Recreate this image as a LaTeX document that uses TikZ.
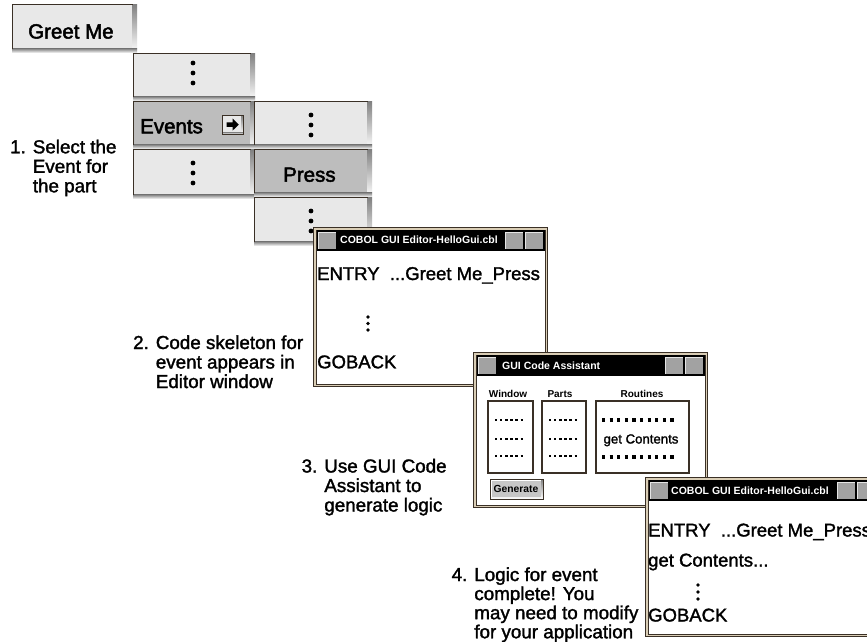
\documentclass[tikz,border=0pt]{standalone}
\usepackage{fontspec}
\setmainfont{Liberation Sans}
\newfontfamily\medfont[FakeBold=1.6]{Liberation Sans}
\newfontfamily\menufont[FakeBold=2.4]{Liberation Sans}
\definecolor{cellL}{HTML}{E8E8E8}
\definecolor{cellD}{HTML}{BDBDBD}
\definecolor{shade}{HTML}{8E8E8E}
\definecolor{edge}{HTML}{3A3026}
\definecolor{tanb}{HTML}{D9CDB5}
\definecolor{sqg}{HTML}{A2A2A2}
\newcommand\mcell[5]{%
 \fill[#5] (#1,#2) rectangle (#3,#4);
 \fill[shade] (#3-4.5,#2) rectangle (#3,#4);
 \fill[shade] (#1,#4-4.5) rectangle (#3,#4);
 \draw[edge,line width=0.9] (#1+0.45,#4-4.5) -- (#1+0.45,#2+0.45) -- (#3-4.5,#2+0.45);}
\newcommand\tsq[2]{%
 \fill[sqg] (#1,#2) rectangle ++(18,17);
 \draw[white!80!gray,line width=0.8] (#1+0.4,#2+17) -- (#1+0.4,#2+0.4) -- (#1+18,#2+0.4);}
\newcommand\mwin[4]{%
 \fill[edge] (#1,#2) rectangle (#3,#4);
 \fill[tanb] (#1+1,#2+1) rectangle (#3-1,#4-1);
 \fill[edge] (#1+2.5,#2+2.5) rectangle (#3-2.5,#4-2.5);
 \fill[white] (#1+3.5,#2+3.5) rectangle (#3-3.5,#4-3.5);
 \fill[black] (#1+3.5,#2+2.5) rectangle (#3-3.5,#2+24);
 \tsq{#1+5}{#2+4.5}
 \tsq{#3-43}{#2+4.5}
 \tsq{#3-23}{#2+4.5}}
\newcommand\mydots[4]{%
 \foreach \k in {0,1,2} {\fill (#1,#2+\k*#3) circle (#4);}}
\tikzset{
 menu/.style={font=\menufont\fontsize{20.5}{21}\selectfont, inner sep=0, anchor=base west, text=black},
 lbl/.style={font=\medfont\fontsize{18.8}{19.5}\selectfont, inner sep=0, anchor=base west, text=black},
 wtxt/.style={font=\medfont\fontsize{18.5}{20}\selectfont, inner sep=0, anchor=base west, text=black},
 ttl/.style={font=\fontsize{10.5}{12}\selectfont\bfseries, inner sep=0, anchor=west, text=white},
 hd/.style={font=\fontsize{10}{12}\selectfont\bfseries, inner sep=0, anchor=base, text=black},
 dotrow/.style={line width=2.3, dash pattern=on 2.3 off 2.8},
 dotrowb/.style={line width=3.1, dash pattern=on 3.1 off 4.5},
 lbox/.style={draw=edge, line width=1.2, fill=white}
}
\begin{document}
\begin{tikzpicture}[x=1pt,y=-1pt]
\useasboundingbox (0,0) rectangle (867,641);
\clip (0,0) rectangle (867,641);
\fill[white] (0,0) rectangle (867,641);
% menus
\mcell{12}{4}{137}{53}{cellL}
\node[menu] (greet) at (28,38.5) {Greet Me};
\mcell{133}{53}{255}{101}{cellL}
\mcell{133}{101}{255}{149}{cellD}
\mcell{133}{149}{255}{199}{cellL}
\mcell{254}{101}{372}{149}{cellL}
\mcell{254}{149}{372}{197}{cellD}
\mcell{254}{197}{372}{246}{cellL}
\mydots{193}{63}{10}{2.4}
\mydots{193}{163}{10}{2.4}
\mydots{311}{115}{10}{2.4}
\mydots{311}{211}{10}{2.4}
\node[menu] (events) at (140,133.3) {Events};
\node[menu] (press) at (283,181.7) {Press};
% arrow box
\fill[cellL] (222,115) rectangle (243,134);
\fill[shade] (241,115) rectangle (243,134);
\fill[shade] (222,132) rectangle (243,134);
\draw[edge,line width=0.8] (222.5,134) rectangle (243,115.5);
\fill[black] (226.5,122.3) -- (232.5,122.3) -- (232.5,118.5) -- (238.8,124.6) -- (232.5,130.7) -- (232.5,126.9) -- (226.5,126.9) -- cycle;
% step labels
\node[lbl] (s1) at (10,153.3) {\begin{tabular}[t]{@{}l@{}}1. Select the\\\phantom{1. }Event for\\\phantom{1. }the part\end{tabular}};
\node[lbl] (s2) at (133,349) {\begin{tabular}[t]{@{}l@{}}2. Code skeleton for\\\phantom{2. }event appears in\\\phantom{2. }Editor window\end{tabular}};
\node[lbl] (s3) at (301.5,472.5) {\begin{tabular}[t]{@{}l@{}}3. Use GUI Code\\\phantom{3. }Assistant to\\\phantom{3. }generate logic\end{tabular}};
\node[lbl, font=\medfont\fontsize{18.8}{18.2}\selectfont] (s4) at (451.5,581) {\begin{tabular}[t]{@{}l@{}}4. Logic for event\\\phantom{4. }complete! You\\\phantom{4. }may need to modify\\\phantom{4. }for your application\end{tabular}};
% window 1
\mwin{313}{227}{548}{387}
\node[ttl] (t1) at (340,240) {COBOL GUI Editor-HelloGui.cbl};
\node[wtxt] (e1) at (317,280) {ENTRY~~...Greet Me\_Press};
\mydots{368}{317}{6.5}{1.8}
\node[wtxt] (g1) at (317,368.3) {GOBACK};
% window 2
\mwin{473}{352}{708}{508}
\node[ttl] (t2) at (502,365.5) {GUI Code Assistant};
\node[hd] (hw) at (508,397) {Window};
\node[hd] (hp) at (560,397) {Parts};
\node[hd] (hr) at (642,397) {Routines};
\draw[lbox] (488,401) rectangle (533,473);
\draw[lbox] (542,401) rectangle (586,473);
\draw[lbox] (596,401) rectangle (689,473);
\foreach \yy in {420,439,456} {
 \draw[dotrow] (495,\yy) -- (525.5,\yy);
 \draw[dotrow] (549,\yy) -- (579.5,\yy);}
\draw[dotrowb] (602,420) -- (677,420);
\draw[dotrowb] (602,457) -- (677,457);
\node[font=\medfont\fontsize{13.2}{15}\selectfont, inner sep=0, anchor=base] (gc) at (641,443.5) {get Contents};
\fill[shade] (490,479) rectangle (543,499);
\fill[black!22] (490,479) rectangle (541,497);
\draw[white,line width=0.8] (490.9,497) -- (490.9,479.9) -- (541,479.9);
\draw[edge,line width=0.9] (490,479) rectangle (543,499);
\node[font=\fontsize{10.3}{12}\selectfont\bfseries, inner sep=0] (gen) at (516,488.5) {Generate};
% window 3
\mwin{645}{477}{880}{637}
\node[ttl] (t3) at (671,490.5) {COBOL GUI Editor-HelloGui.cbl};
\node[wtxt] (e3) at (648,536.5) {ENTRY~~...Greet Me\_Press};
\node[wtxt] (c3) at (648,566.5) {get Contents...};
\mydots{698}{585}{7}{1.8}
\node[wtxt] (g3) at (648,621.5) {GOBACK};
\end{tikzpicture}
\end{document}
